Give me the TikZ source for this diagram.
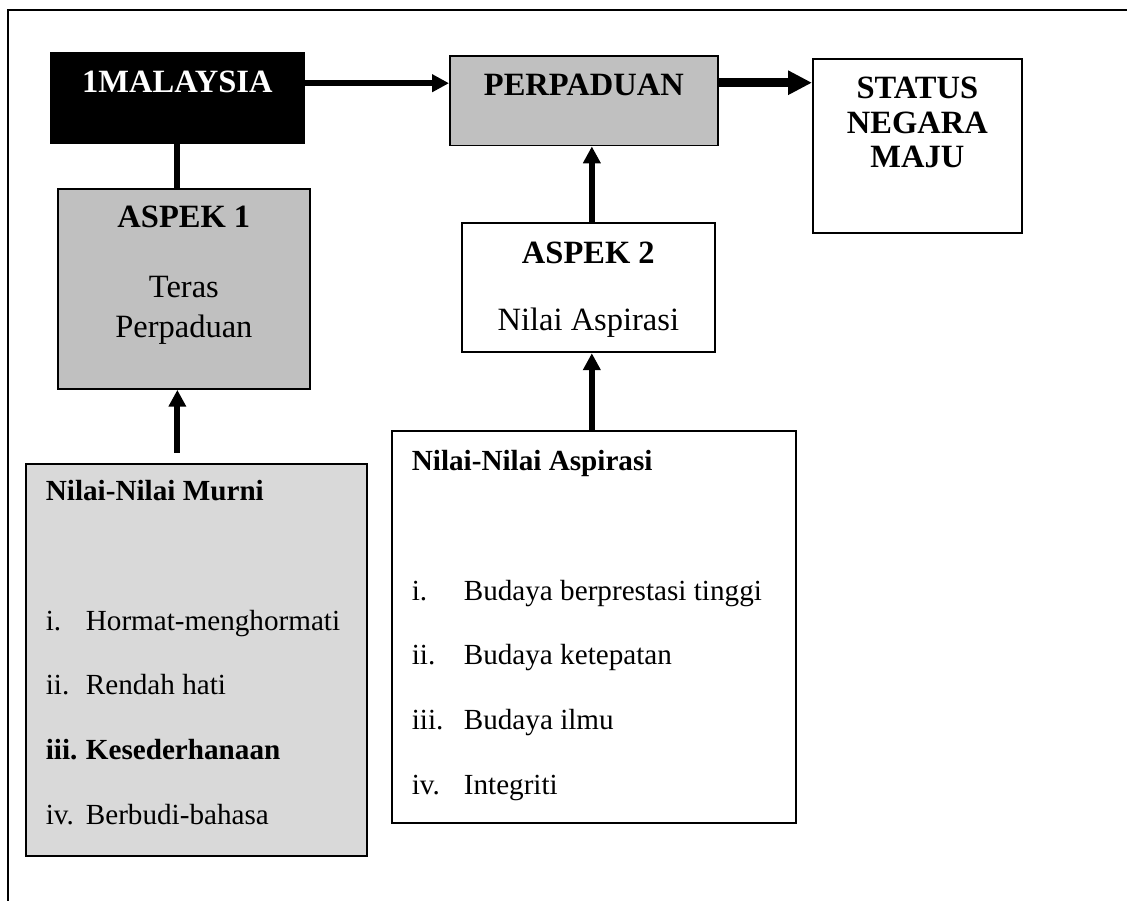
\documentclass[tikz,border=0pt]{standalone}
\usepackage{fontspec}
\setmainfont{Liberation Serif}
\usepackage{xcolor}
\usetikzlibrary{arrows.meta}
\definecolor{boxgray}{HTML}{C0C0C0}
\definecolor{listgray}{HTML}{D9D9D9}

\begin{document}
\begin{tikzpicture}[
  x=0.02cm, y=-0.02cm,
  headbox/.style={draw, line width=1pt, inner sep=0pt, anchor=north west,
                  font=\fontsize{18.5pt}{19.6pt}\selectfont},
  listbox/.style={draw, line width=1pt, inner xsep=0.4cm, inner ysep=0pt, anchor=north west,
                  font=\fontsize{16.6pt}{36.8pt}\selectfont},
  arrow/.style={-{Triangle[length=9.6pt, width=9.6pt]}, line width=3.4pt},
  thick_arrow/.style={-{Triangle[length=13.6pt, width=13pt]}, line width=4.9pt},
  link/.style={line width=3.4pt},
]
\useasboundingbox (0,0) rectangle (1127,901);

% ---- Frame ----
\draw[line width=1.4pt] (8,901) -- (8,10) -- (1127,10);

% ---- Top row ----
\node[headbox, fill=black, text=white, minimum width=5.06cm, text height=22.7pt, text depth=28.9pt]
  (onemy) at (50,52) {\bfseries 1MALAYSIA};
\node[headbox, fill=boxgray, minimum width=5.36cm, text height=22.7pt, text depth=28.35pt]
  (perpaduan) at (449,55) {\bfseries PERPADUAN};
\node[headbox, minimum width=4.18cm, text height=22.7pt, text depth=76.5pt]
  (status) at (812,58) {\bfseries\begin{tabular}[t]{@{}c@{}}STATUS\\ NEGARA\\ MAJU\end{tabular}};

% ---- Aspects ----
\node[headbox, fill=boxgray, minimum width=5.04cm, text height=22.1pt, text depth=91.8pt,
      font=\fontsize{18.5pt}{22.7pt}\selectfont]
  (aspek1) at (57,188) {\begin{tabular}[t]{@{}c@{}}\textbf{ASPEK 1}\\[17pt] Teras\\ Perpaduan\end{tabular}};
\node[headbox, minimum width=5.06cm, text height=23.2pt, text depth=50.5pt,
      font=\fontsize{18.5pt}{22.7pt}\selectfont]
  (aspek2) at (461,222) {\begin{tabular}[t]{@{}c@{}}\textbf{ASPEK 2}\\[15.3pt] Nilai Aspirasi\end{tabular}};

% ---- Value lists ----
\node[listbox, fill=listgray, text height=21pt, text depth=202.4pt] (murni) at (25,463) {%
  \begin{tabular}[t]{@{}p{0.8cm}@{}p{5.22cm}@{}}
    \multicolumn{2}{@{}l@{}}{\textbf{Nilai-Nilai Murni}}\\
    \\
    i.  & Hormat-menghormati\\
    ii. & Rendah hati\\
    \textbf{iii.} & \textbf{Kesederhanaan}\\
    iv. & Berbudi-bahasa
  \end{tabular}};
\node[listbox, text height=22.7pt, text depth=200.7pt] (aspirasi) at (391,430) {%
  \begin{tabular}[t]{@{}p{1.04cm}@{}p{6.24cm}@{}}
    \multicolumn{2}{@{}l@{}}{\textbf{Nilai-Nilai Aspirasi}}\\
    \\
    i.   & Budaya berprestasi tinggi\\
    ii.  & Budaya ketepatan\\
    iii. & Budaya ilmu\\
    iv.  & Integriti
  \end{tabular}};

% ---- Connectors ----
\draw[arrow] ([yshift=0.3cm]onemy.east) -- ([yshift=0.3cm]onemy.east -| perpaduan.west);
\draw[thick_arrow] ([yshift=0.36cm]perpaduan.east) -- ([yshift=0.36cm]perpaduan.east -| status.west);
\draw[link] (onemy.south) -- (onemy.south |- aspek1.north);
\draw[arrow, shorten <=0.2cm] (murni.north -| onemy.south) -- (onemy.south |- aspek1.south);
\draw[arrow] ([xshift=0.07cm]aspek2.north) -- ([xshift=0.07cm]aspek2.north |- perpaduan.south);
\draw[arrow] ([xshift=-0.04cm]aspirasi.north) -- ([xshift=-0.04cm]aspirasi.north |- aspek2.south);

\end{tikzpicture}
\end{document}
